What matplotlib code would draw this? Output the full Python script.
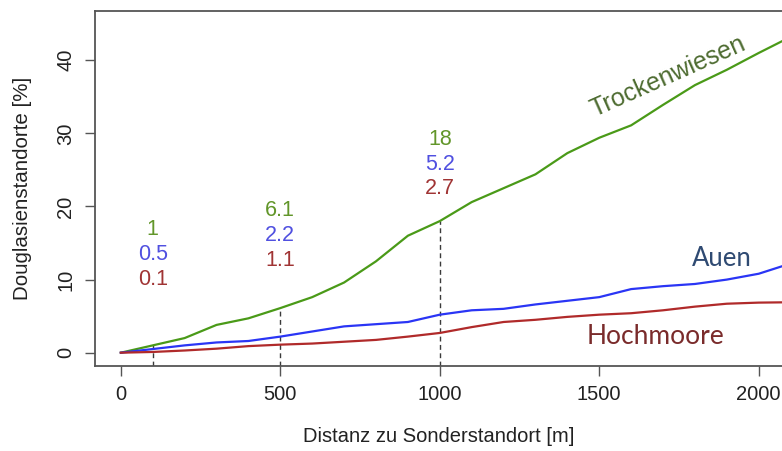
import matplotlib
matplotlib.use("Agg")
import matplotlib.pyplot as plt
import numpy as np

# ---- data ----
dist = [0, 100, 200, 300, 400, 500, 600, 700, 800, 900, 1000,
        1100, 1200, 1300, 1400, 1500, 1600, 1700, 1800, 1900, 2000, 2100]
trockenwiesen = [0, 1.0, 2.0, 3.8, 4.7, 6.1, 7.6, 9.6, 12.5, 16.0, 18.0,
                 20.6, 22.5, 24.4, 27.3, 29.4, 31.1, 33.9, 36.6, 38.7, 41.0, 43.2]
auen = [0, 0.5, 1.0, 1.4, 1.6, 2.2, 2.9, 3.6, 3.9, 4.2, 5.2,
        5.8, 6.0, 6.6, 7.1, 7.6, 8.7, 9.1, 9.4, 10.0, 10.8, 12.2]
hochmoore = [0, 0.1, 0.3, 0.55, 0.9, 1.1, 1.25, 1.5, 1.75, 2.2, 2.7,
             3.5, 4.2, 4.5, 4.9, 5.2, 5.4, 5.8, 6.3, 6.7, 6.85, 6.9]

marker_dist = [100, 500, 1000]
marker_tw = ["1", "6.1", "18"]
marker_au = ["0.5", "2.2", "5.2"]
marker_hm = ["0.1", "1.1", "2.7"]
marker_top = [16.8, 19.4, 29.2]   # vertical position of the top annotation line

xticks = [0, 500, 1000, 1500, 2000]
yticks = [0, 10, 20, 30, 40]

# ---- style ----
c_tw, c_au, c_hm = "#4a9a18", "#2a35f5", "#b02a2a"
t_tw, t_au, t_hm = "#62962a", "#5050e0", "#a03434"
lab_tw, lab_au, lab_hm = "#4d6b30", "#2f4a72", "#7a2b2b"
spine_c = "#555555"
plt.rcParams['font.family'] = ['Liberation Sans', 'DejaVu Sans']

fig = plt.figure(figsize=(7.82, 4.51), dpi=100)
W, H = 782, 451
ax = fig.add_axes([95 / W, 1 - 366 / H, (782 - 95) / W, (366 - 11) / H])
ax.set_xlim(-81, 2073)
ax.set_ylim(-1.82, 46.74)

ax.plot(dist, trockenwiesen, color=c_tw, lw=1.6, zorder=3)
ax.plot(dist, auen, color=c_au, lw=1.6, zorder=3)
ax.plot(dist, hochmoore, color=c_hm, lw=1.6, zorder=3)

# dashed drop lines
for d in marker_dist:
    v = trockenwiesen[dist.index(d)]
    ax.vlines(d, -1.82, v, colors="#3a3a3a", linestyles=(0, (3.5, 2.5)), lw=1.0, zorder=2)

step = 3.4
for d, a, b, c, top in zip(marker_dist, marker_tw, marker_au, marker_hm, marker_top):
    ax.text(d, top, a, color=t_tw, fontsize=15.5, ha="center", va="center")
    ax.text(d, top - step, b, color=t_au, fontsize=15.5, ha="center", va="center")
    ax.text(d, top - 2 * step, c, color=t_hm, fontsize=15.5, ha="center", va="center")

ax.text(1716, 37.7, "Trockenwiesen", color=lab_tw, fontsize=18, rotation=24,
        ha="center", va="center", rotation_mode="anchor")
ax.text(1885, 12.9, "Auen", color=lab_au, fontsize=18.5, family=["Lato", "DejaVu Sans"],
        ha="center", va="center")
ax.text(1675, 2.15, "Hochmoore", color=lab_hm, fontsize=19, family=["Lato", "DejaVu Sans"],
        ha="center", va="center")

# axes styling (R-like)
for s in ["top", "left", "bottom"]:
    ax.spines[s].set_color(spine_c)
    ax.spines[s].set_linewidth(1.3)
ax.spines["right"].set_visible(False)

ax.set_xticks(xticks)
ax.set_yticks(yticks)
ax.set_xticklabels([str(t) for t in xticks])
ax.set_yticklabels([str(t) for t in yticks], rotation=90, va="center")
ax.tick_params(axis="both", direction="out", length=7.2, width=1.0, color=spine_c,
               labelsize=14.5, labelcolor="#222222")
ax.tick_params(axis="x", pad=6.5)
ax.tick_params(axis="y", pad=7)

ax.set_xlabel("Distanz zu Sonderstandort [m]", fontsize=14.5, color="#222222", va="center")
ax.xaxis.set_label_coords(0.5, (366 - 437) / 355)
ax.set_ylabel("Douglasienstandorte [%]", fontsize=14.8, color="#222222", va="center")
ax.yaxis.set_label_coords((23 - 95) / 687, 0.5)

fig.savefig("out.png", dpi=100)
